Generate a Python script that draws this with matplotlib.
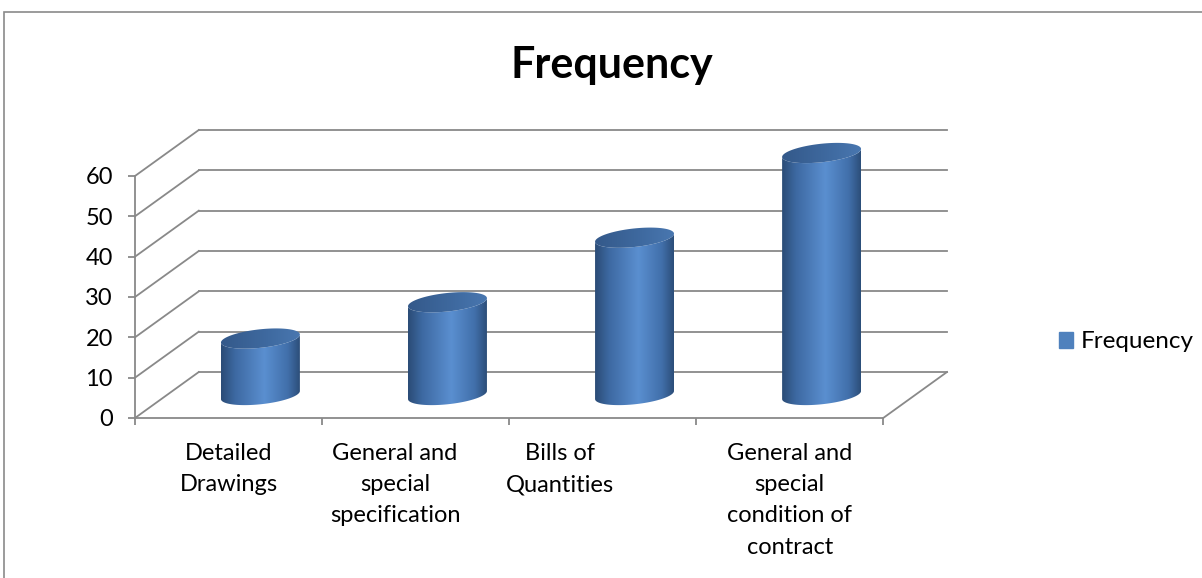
import numpy as np
import matplotlib
matplotlib.use('Agg')
import matplotlib.pyplot as plt
from matplotlib.patches import Polygon, Patch, Rectangle
from matplotlib.colors import LinearSegmentedColormap

plt.rcParams['font.family'] = ['Lato', 'DejaVu Sans']

categories = ['Detailed\nDrawings',
              'General and\nspecial\nspecification',
              'Bills of\nQuantities',
              'General and\nspecial\ncondition of\ncontract']
values = [14, 23, 39, 60]
series_name = 'Frequency'
yticks = [0, 10, 20, 30, 40, 50, 60]

# depth of the 3d box, in category / value units
DX, DY = 0.341, 11.4
grid_col = '#898989'

side_cmap = LinearSegmentedColormap.from_list(
    'side', [(0, '#2b4c76'), (0.18, '#3d69a2'), (0.55, '#5a8fd0'),
             (0.85, '#416faa'), (1, '#2c4e79')])
top_cmap = LinearSegmentedColormap.from_list(
    'top', [(0, '#34598a'), (0.6, '#3f6aa0'), (1, '#4977b0')])

fig = plt.figure(figsize=(12.02, 5.78), dpi=100)
ax = fig.add_axes([135 / 1202, 160 / 578, 812 / 1202, 288 / 578])
ax.set_facecolor('none')

# back wall and left wall gridlines
for v in yticks:
    ax.plot([-0.5 + DX, 3.5 + DX], [v + DY, v + DY], color=grid_col,
            lw=1.3, clip_on=False, zorder=1)
    ax.plot([-0.5, -0.5 + DX], [v, v + DY], color=grid_col,
            lw=1.3, clip_on=False, zorder=1)
# floor right edge
ax.plot([3.5, 3.5 + DX], [0, DY], color=grid_col, lw=1.3, clip_on=False, zorder=1)

# cylinders
a, b, c = 0.211, 2.3, 1.0
th = np.linspace(np.pi, 2 * np.pi, 80)
full = np.linspace(0, 2 * np.pi, 160)
for i, v in enumerate(values):
    cx = i + DX / 2
    y0 = DY / 2
    y1 = v + DY / 2
    bx = cx + a * np.cos(th)
    by0 = y0 + b * np.sin(th) + c * np.cos(th)
    by1 = y1 + b * np.sin(th) + c * np.cos(th)
    side = np.vstack([np.column_stack([bx, by0]),
                      np.column_stack([bx[::-1], by1[::-1]])])
    poly = Polygon(side, closed=True, fc='none', ec='none',
                   transform=ax.transData)
    ax.add_patch(poly)
    im = ax.imshow(np.linspace(0, 1, 256)[None, :], cmap=side_cmap,
                   extent=[cx - a, cx + a, y0 - b - c, y1 + b + c],
                   aspect='auto', interpolation='bilinear', zorder=3)
    im.set_clip_path(poly)

    tx = cx + a * np.cos(full)
    ty = y1 + b * np.sin(full) + c * np.cos(full)
    top = Polygon(np.column_stack([tx, ty]), closed=True, fc='none',
                  ec='none', transform=ax.transData)
    ax.add_patch(top)
    im2 = ax.imshow(np.linspace(0, 1, 256)[None, :], cmap=top_cmap,
                    extent=[cx - a, cx + a, y1 - b - c, y1 + b + c],
                    aspect='auto', interpolation='bilinear', zorder=4)
    im2.set_clip_path(top)

ax.set_xlim(-0.5, 3.5 + DX)
ax.set_ylim(0, 60 + DY)

for s in ['top', 'right']:
    ax.spines[s].set_visible(False)
for s in ['left', 'bottom']:
    ax.spines[s].set_color(grid_col)
    ax.spines[s].set_linewidth(1.3)
ax.spines['left'].set_bounds(0, 60)
ax.spines['bottom'].set_bounds(-0.5, 3.5)

ax.set_yticks(yticks)
ax.set_yticklabels([str(t) for t in yticks], fontsize=17)
ax.set_xticks([-0.5, 0.5, 1.5, 2.5, 3.5])
ax.set_xticklabels([])
ax.tick_params(axis='both', color=grid_col, width=1.3, length=5)
ax.tick_params(axis='y', pad=11)

# category labels under the floor
label_shift = [0.0, -0.11, -0.23, 0.0]
for i, lab in enumerate(categories):
    ax.annotate(lab, (i + label_shift[i], 0),
                xycoords=('data', 'axes fraction'),
                xytext=(0, -18), textcoords='offset points',
                ha='center', va='top', fontsize=17, linespacing=1.6,
                annotation_clip=False)

fig.text(612 / 1202, 1 - 65 / 578, 'Frequency', ha='center', va='center',
         fontsize=31, fontweight='bold')

fig.legend(handles=[Patch(color='#4f81bd', label=series_name)],
           loc='center left', bbox_to_anchor=(1037 / 1202, 1 - 342 / 578),
           frameon=False, fontsize=17.5, handlelength=0.6, handleheight=0.6,
           handletextpad=0.3)

# chart area border
fig.patches.append(Rectangle((4 / 1202, -0.1), 1.2, 1.1 - 12 / 578,
                             transform=fig.transFigure, fill=False,
                             ec='#8a8a8a', lw=1.2))

fig.savefig('out.png', dpi=100)
